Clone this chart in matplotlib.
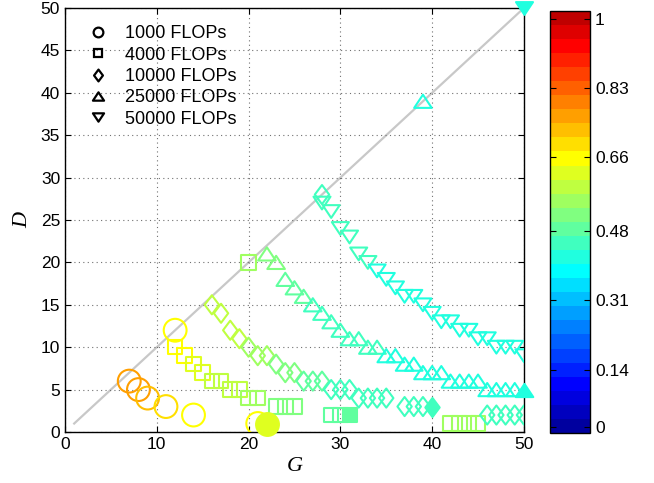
"""Scatter of D against G for several FLOP budgets, coloured by score."""

import matplotlib
import matplotlib.pyplot as plt
import numpy as np
from matplotlib.colors import ListedColormap, Normalize
from matplotlib.lines import Line2D
from matplotlib.path import Path

matplotlib.use("Agg")

# 1000 FLOPs
g_1000 = [7, 8, 9, 11, 14, 12, 21]
d_1000 = [6, 5, 4, 3, 2, 12, 1]
c_1000 = [0.76, 0.76, 0.73, 0.69, 0.66, 0.66, 0.66]

# 4000 FLOPs
g_4000 = [12, 13, 14, 15, 16, 17, 18, 19, 20, 21, 23, 24, 25, 29, 30, 42, 43, 44, 45, 20]
d_4000 = [10, 9, 8, 7, 6, 6, 5, 5, 4, 4, 3, 3, 3, 2, 2, 1, 1, 1, 1, 20]
c_4000 = [0.66, 0.66, 0.62, 0.62, 0.59, 0.59, 0.59, 0.59, 0.55, 0.55,
          0.52, 0.52, 0.52, 0.49, 0.49, 0.55, 0.55, 0.55, 0.55, 0.55]

# 10000 FLOPs
g_10000 = [16, 17, 18, 19, 20, 21, 22, 23, 24, 25, 26, 27, 28, 29, 30, 31,
           32, 33, 34, 35, 37, 38, 39, 46, 47, 48, 49, 50, 28]
d_10000 = [15, 14, 12, 11, 10, 9, 9, 8, 7, 7, 6, 6, 6, 5, 5, 5,
           4, 4, 4, 4, 3, 3, 3, 2, 2, 2, 2, 2, 28]
c_10000 = [0.59, 0.59, 0.59, 0.59, 0.55, 0.55, 0.55, 0.52, 0.52, 0.52, 0.49, 0.49, 0.49,
           0.45, 0.45, 0.45, 0.45, 0.45, 0.45, 0.45, 0.45, 0.45, 0.45,
           0.45, 0.45, 0.45, 0.45, 0.45, 0.45]

# 25000 FLOPs
g_25000 = [22, 23, 24, 25, 26, 27, 28, 29, 30, 31, 32, 33, 34, 35, 36, 37, 38,
           39, 40, 41, 42, 43, 44, 45, 46, 47, 48, 49, 39]
d_25000 = [21, 20, 18, 17, 16, 15, 14, 13, 12, 11, 11, 10, 10, 9, 9, 8, 8,
           7, 7, 7, 6, 6, 6, 6, 5, 5, 5, 5, 39]
c_25000 = [0.52, 0.52, 0.49, 0.49, 0.49, 0.45, 0.45, 0.45, 0.45, 0.45, 0.45, 0.45, 0.45,
           0.42, 0.42, 0.42, 0.42, 0.42, 0.42, 0.42, 0.42, 0.42, 0.42, 0.42,
           0.42, 0.42, 0.42, 0.42, 0.42]

# 50000 FLOPs
g_50000 = [28, 29, 30, 31, 32, 33, 34, 35, 36, 37, 38, 39, 40, 41, 42, 43, 44,
           45, 46, 47, 48, 49, 50]
d_50000 = [27, 26, 24, 23, 21, 20, 19, 18, 17, 16, 16, 15, 14, 13, 13, 12, 12,
           11, 11, 10, 10, 10, 9]
c_50000 = [0.45, 0.45, 0.45, 0.45, 0.45, 0.45, 0.42, 0.42, 0.42, 0.42, 0.42, 0.42,
           0.42, 0.42, 0.42, 0.42, 0.42, 0.42, 0.42, 0.42, 0.42, 0.42, 0.42]

# best point of each budget (drawn filled)
best_g = [22, 31, 40, 50, 50]
best_d = [1, 2, 3, 5, 50]
best_c = [0.62, 0.49, 0.45, 0.42, 0.42]

labels = ["1000 FLOPs", "4000 FLOPs", "10000 FLOPs", "25000 FLOPs", "50000 FLOPs"]
cbar_ticks = [0, 0.14, 0.31, 0.48, 0.66, 0.83, 1]
cbar_labels = ["0", "0.14", "0.31", "0.48", "0.66", "0.83", "1"]


def matlab_jet(m):
    """MATLAB's jet(m) colour table."""
    n = int(np.ceil(m / 4))
    u = np.concatenate([np.arange(1, n + 1) / n, np.ones(n - 1), np.arange(n, 0, -1) / n])
    g = int(np.ceil(n / 2)) - (1 if m % 4 == 1 else 0) + np.arange(1, len(u) + 1)
    r = g + n
    b = g - n
    g = g[g <= m]
    r = r[r <= m]
    b = b[b >= 1]
    table = np.zeros((m, 3))
    table[r - 1, 0] = u[: len(r)]
    table[g - 1, 1] = u[: len(g)]
    table[b - 1, 2] = u[len(u) - len(b):]
    return table


tri_up = Path([(-1, -0.75), (1, -0.75), (0, 0.75), (-1, -0.75)], closed=True)
tri_down = Path([(-1, 0.75), (1, 0.75), (0, -0.75), (-1, 0.75)], closed=True)
diamond = Path([(0, 1), (0.75, 0), (0, -1), (-0.75, 0), (0, 1)], closed=True)

plt.rcParams["font.family"] = ["Liberation Sans", "DejaVu Sans"]

cmap = ListedColormap(matlab_jet(30))
norm = Normalize(vmin=-0.0154, vmax=1.0196)

fig = plt.figure(figsize=(6.54, 4.83), dpi=100)
ax = fig.add_axes([0.0994, 0.1056, 0.7017, 0.8778])

ax.plot([1, 50], [1, 50], color="#c8c8c8", lw=1.6, zorder=1)

series = [
    (g_1000, d_1000, c_1000, "o", 270),
    (g_4000, d_4000, c_4000, "s", 110),
    (g_10000, d_10000, c_10000, diamond, 190),
    (g_25000, d_25000, c_25000, tri_up, 160),
    (g_50000, d_50000, c_50000, tri_down, 150),
]
for (gs, ds, cs, marker, size), bg, bd, bc in zip(series, best_g, best_d, best_c):
    ax.scatter(gs, ds, s=size, marker=marker, facecolors="none",
               edgecolors=cmap(norm(cs)), linewidths=1.5, zorder=3)
    ax.scatter([bg], [bd], s=size, marker=marker, c=[bc], cmap=cmap, norm=norm,
               edgecolors=cmap(norm([bc])), linewidths=1.5, zorder=4, clip_on=False)

ax.set_xlim(0, 50)
ax.set_ylim(0, 50)
ax.set_xticks(range(0, 51, 10))
ax.set_yticks(range(0, 51, 5))
ax.tick_params(direction="in", length=4, top=True, right=True, labelsize=12.5, width=0.8)
ax.grid(True, color="#707070", linestyle=(0, (1, 3)), linewidth=0.8)
for spine in ax.spines.values():
    spine.set_linewidth(1.0)
ax.set_xlabel("G", fontsize=16, fontstyle="italic", family="Liberation Serif", labelpad=4)
ax.set_ylabel("D", fontsize=16, fontstyle="italic", family="Liberation Serif", labelpad=6)

markers = ["o", "s", diamond, tri_up, tri_down]
msizes = [7, 6, 8.5, 8, 8]
handles = [Line2D([], [], linestyle="none", marker=mk, markersize=ms,
                  markerfacecolor="none", markeredgecolor="black", markeredgewidth=1.6)
           for mk, ms in zip(markers, msizes)]
ax.legend(handles, labels, loc="upper left", frameon=False, fontsize=13,
          labelspacing=0.24, handlelength=1.2, handletextpad=0.9,
          borderaxespad=0.4, bbox_to_anchor=(0.017, 0.993))

cax = fig.add_axes([0.841, 0.1035, 0.0612, 0.8743])
sm = plt.cm.ScalarMappable(norm=norm, cmap=cmap)
cbar = fig.colorbar(sm, cax=cax, ticks=cbar_ticks)
cbar.ax.set_yticklabels(cbar_labels)
cbar.ax.tick_params(direction="in", left=True, right=True, length=4, labelsize=12.5, width=0.8)
cbar.outline.set_linewidth(1.0)

fig.savefig("out.png", dpi=100)
